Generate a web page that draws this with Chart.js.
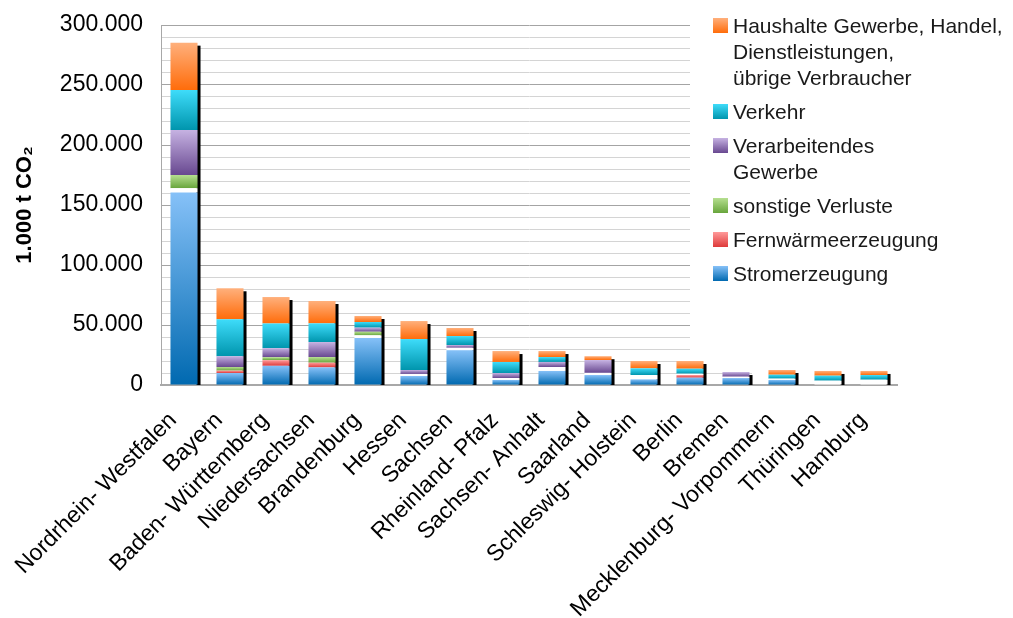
<!DOCTYPE html>
<html lang="de">
<head>
<meta charset="utf-8">
<title>CO2-Emissionen nach Bundesländern</title>
<script src="https://cdn.jsdelivr.net/npm/chart.js@4.4.1/dist/chart.umd.min.js"></script>
<style>
  body { margin: 0; background: #fff; }
  #wrap { width: 1013px; height: 618px; }
</style>
</head>
<body>
<div id="wrap"><canvas id="chart" width="1013" height="618"></canvas></div>
<script>
const laender = ['Nordrhein- Westfalen', 'Bayern', 'Baden- Württemberg', 'Niedersachsen', 'Brandenburg',
  'Hessen', 'Sachsen', 'Rheinland- Pfalz', 'Sachsen- Anhalt', 'Saarland', 'Schleswig- Holstein',
  'Berlin', 'Bremen', 'Mecklenburg- Vorpommern', 'Thüringen', 'Hamburg'];

// Werte in 1.000 t CO2
const stromerzeugung   = [160500, 10000, 16000, 14700, 39200, 7500, 29000, 4200, 11700, 8300, 4700, 6100, 5800, 4200, 0, 0];
const fernwaerme       = [0, 2000, 4700, 3900, 0, 0, 0, 0, 0, 0, 0, 2200, 0, 0, 0, 0];
const ohneZuordnung    = [3500, 0, 0, 0, 2200, 1700, 2000, 1600, 3300, 1800, 3600, 1100, 1100, 1100, 3600, 4400]; // weisse Luecken
const sonstigeVerluste = [11000, 3000, 2500, 4700, 3000, 0, 0, 0, 0, 0, 0, 0, 0, 0, 0, 0];
const verarbeitendes   = [37500, 9000, 7500, 12500, 3400, 3300, 2300, 4200, 4200, 10700, 0, 0, 3900, 0, 0, 0];
const verkehr          = [33300, 30800, 20600, 15600, 4700, 25800, 7500, 9200, 4100, 0, 5600, 4200, 0, 3300, 4200, 3900];
const haushalte        = [39500, 25800, 22000, 18600, 5000, 15000, 6700, 9100, 5000, 3200, 6100, 6400, 0, 3900, 3900, 3400];

const yMax = 300000;
const yStep = 10000;
const yLabelStep = 50000;

const schrift = '"Liberation Sans", Arial, Helvetica, sans-serif';

// Farbverlauf von oben (hell) nach unten (dunkel)
const farben = {
  strom: ['#86c1f8', '#0069b0'],
  fern: ['#ff9a9a', '#de3a3a'],
  luecke: ['#ffffff', '#ffffff'],
  sonst: ['#b6df90', '#68a53c'],
  verarb: ['#c6b2e2', '#684890'],
  verkehr: ['#3edcfa', '#0095ad'],
  haushalte: ['#ffb07c', '#ff6c0a']
};

function verlauf(f) {
  return (c) => {
    if (c.type !== 'data') return f[1];
    const chart = c.chart;
    const y = chart.scales.y;
    let start = 0;
    for (let d = 0; d < c.datasetIndex; d++) start += chart.data.datasets[d].data[c.dataIndex];
    const y0 = y.getPixelForValue(start + c.raw);
    const y1 = y.getPixelForValue(start);
    if (!isFinite(y0) || !isFinite(y1) || y1 - y0 < 0.5) return f[1];
    const g = chart.ctx.createLinearGradient(0, y0, 0, y1);
    g.addColorStop(0, f[0]);
    g.addColorStop(1, f[1]);
    return g;
  };
}

function tausender(v) {
  return String(v).replace(/\B(?=(\d{3})+(?!\d))/g, '.');
}

const serien = [
  { name: ['Stromerzeugung'], data: stromerzeugung, f: farben.strom },
  { name: ['Fernwärmeerzeugung'], data: fernwaerme, f: farben.fern },
  { name: null, data: ohneZuordnung, f: farben.luecke },
  { name: ['sonstige Verluste'], data: sonstigeVerluste, f: farben.sonst },
  { name: ['Verarbeitendes', 'Gewerbe'], data: verarbeitendes, f: farben.verarb },
  { name: ['Verkehr'], data: verkehr, f: farben.verkehr },
  { name: ['Haushalte Gewerbe, Handel,', 'Dienstleistungen,', 'übrige Verbraucher'], data: haushalte, f: farben.haushalte }
];

// weisser Legendenkasten, Schatten rechts an den Saeulen, Legende
const extras = {
  id: 'extras',
  beforeDatasetsDraw(chart) {
    const ctx = chart.ctx;
    const y = chart.scales.y;
    ctx.save();
    ctx.fillStyle = '#fff';
    ctx.fillRect(690, 0, 323, 367);
    ctx.fillRect(752, 367, 261, 13);

    // Schatten
    const meta = chart.getDatasetMeta(0);
    const basis = y.getPixelForValue(0);
    ctx.fillStyle = '#000';
    meta.data.forEach((el, i) => {
      let summe = 0;
      chart.data.datasets.forEach(ds => summe += ds.data[i]);
      const oben = y.getPixelForValue(summe);
      const rechts = el.x + el.width / 2;
      ctx.fillRect(rechts - 1, oben + 3, 4, basis - oben - 3);
    });

    // Legende
    const zeile = 26, abstand = 8;
    let top = 18;
    ctx.font = '21px ' + schrift;
    ctx.textAlign = 'left';
    ctx.textBaseline = 'alphabetic';
    for (let k = serien.length - 1; k >= 0; k--) {
      const s = serien[k];
      if (!s.name) continue;
      const g = ctx.createLinearGradient(0, top, 0, top + 15);
      g.addColorStop(0, s.f[0]);
      g.addColorStop(1, s.f[1]);
      ctx.fillStyle = g;
      ctx.fillRect(713, top, 15, 15);
      ctx.fillStyle = '#1a1a1a';
      s.name.forEach((t, j) => ctx.fillText(t, 733, top + 14.5 + j * zeile));
      top += s.name.length * zeile + abstand;
    }
    ctx.restore();
  }
};

new Chart(document.getElementById('chart'), {
  type: 'bar',
  data: {
    labels: laender,
    datasets: serien.map(s => ({
      label: s.name ? s.name.join(' ') : '',
      data: s.data,
      backgroundColor: verlauf(s.f),
      borderWidth: 0,
      categoryPercentage: 0.6,
      barPercentage: 0.98
    }))
  },
  options: {
    responsive: false,
    animation: false,
    layout: { padding: { left: 0, top: 25, right: 116, bottom: 0 } },
    plugins: {
      legend: { display: false },
      tooltip: { enabled: false }
    },
    scales: {
      x: {
        stacked: true,
        grid: { display: false },
        border: { color: '#a8a8a8', width: 2 },
        ticks: {
          color: '#000',
          font: { family: schrift, size: 23 },
          maxRotation: 45,
          minRotation: 45,
          autoSkip: false,
          labelOffset: -11,
          padding: 14
        },
        afterFit(scale) { scale.height = 233; }
      },
      y: {
        stacked: true,
        min: 0,
        max: yMax,
        border: { color: '#a8a8a8', width: 1 },
        grid: {
          drawTicks: false,
          color: (c) => (c.tick && c.tick.value % yLabelStep === 0) ? '#a4a4a4' : '#d4d4d4'
        },
        ticks: {
          stepSize: yStep,
          autoSkip: false,
          padding: 18,
          color: '#000',
          font: { family: schrift, size: 23 },
          callback: (v) => v % yLabelStep === 0 ? tausender(v) : ''
        },
        title: {
          display: true,
          text: '1.000 t CO₂',
          color: '#000',
          font: { family: schrift, size: 22, weight: 'bold' },
          padding: { top: 12, bottom: 0 }
        },
        afterFit(scale) {
          scale.width = 161;
          scale.paddingTop = 0;
          scale.paddingBottom = 0;
        }
      }
    }
  },
  plugins: [extras]
});
</script>
</body>
</html>
